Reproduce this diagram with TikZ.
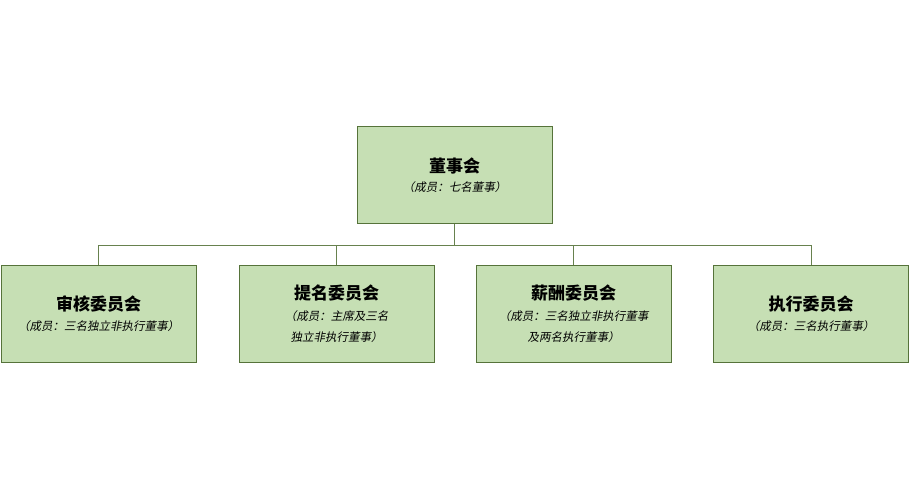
\documentclass[tikz,border=0pt]{standalone}
\usepackage{fontspec}
\usepackage{xcolor}
\usepackage{tikz}
\usetikzlibrary{positioning}
\newfontfamily\cjk{Noto Sans CJK SC}[AutoFakeSlant=0.2]
\definecolor{boxfill}{HTML}{C6DFB4}
\definecolor{boxline}{HTML}{56733A}
\tikzstyle{unit} = [draw=boxline,fill=boxfill,line width=0.9pt,minimum width=195pt,minimum height=97pt,align=center,inner sep=0pt]
\tikzstyle{link} = [draw=boxline!90,line width=0.9pt]
\newcommand{\ttl}[1]{{\fontsize{17pt}{21pt}\selectfont\bfseries #1}}
\newcommand{\sub}[1]{{\itshape #1}}

\begin{document}
\begin{tikzpicture}[x=1pt,y=-1pt]
	\useasboundingbox (0,0) rectangle (909,489);
	\begin{scope}[font=\cjk\fontsize{11.5pt}{21pt}\selectfont]
		
		% Board:
		\node [unit] (board) at (454.5,175) {\ttl{董事会}\\[-2pt]\sub{（成员：七名董事）}};
		
		% Committees:
		% all on one row, same size as the board box
		\node [unit] (audit) at (98.5,314) {\ttl{审核委员会}\\[-1pt]\sub{（成员：三名独立非执行董事）}};
		\node [unit] (nomination) at (336.5,314) {\ttl{提名委员会}\\\sub{（成员：主席及三名}\\\sub{独立非执行董事）}};
		\node [unit] (remuneration) at (573.5,314) {\ttl{薪酬委员会}\\\sub{（成员：三名独立非执行董事}\\\sub{及两名执行董事）}};
		\node [unit] (executive) at (811,314) {\ttl{执行委员会}\\[-1pt]\sub{（成员：三名执行董事）}};
		
		% Links:
		\foreach \c in {audit,nomination,remuneration,executive}
		\draw [link] (board.south) -- ++(0,21) -| (\c.north);
		
	\end{scope}
\end{tikzpicture}
\end{document}
